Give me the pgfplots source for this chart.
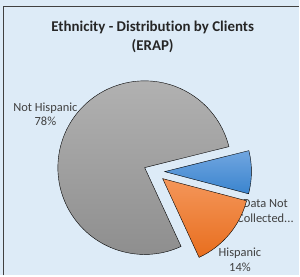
\documentclass[border=0pt]{standalone}
\usepackage{pgfplots}
\pgfplotsset{compat=1.18}
\usepackage{fontspec}
\setmainfont{Carlito}[Ligatures={NoCommon}]
\definecolor{bg}{RGB}{221,235,247}
\definecolor{frame}{RGB}{64,64,64}
\definecolor{txt}{RGB}{64,64,64}
\definecolor{grayA}{RGB}{178,178,178}
\definecolor{grayB}{RGB}{140,140,140}
\definecolor{blueA}{RGB}{113,166,224}
\definecolor{blueB}{RGB}{58,132,206}
\definecolor{orA}{RGB}{244,150,90}
\definecolor{orB}{RGB}{232,110,30}
% slice apex (pixel space, y up), start angle (deg), percentage
\pgfplotstableread{
x y start pct
145 108 -65.2 78
}\notHisp
\pgfplotstableread{
x y start pct
163 97 -14.8 14
}\hisp
\pgfplotstableread{
x y start pct
165 104 14 8
}\notColl
\pgfplotsset{
  pieslice/.style n args={2}{
    scatter, only marks, mark=*,
    visualization depends on={\thisrow{start} \as \wstart},
    visualization depends on={\thisrow{pct} \as \wpct},
    scatter/@pre marker code/.code={%
      \pgfmathsetmacro\wend{\wstart-3.6*\wpct}%
      \shade[top color=#1, bottom color=#2]
        (0,0) -- (\wstart:87bp) arc[start angle=\wstart, end angle=\wend, radius=87bp] -- cycle;
      \begin{scope}[opacity=0]},
    scatter/@post marker code/.code={\end{scope}},
  }
}
\begin{document}
\begin{tikzpicture}
\fill[bg] (0,0) rectangle (300bp,276bp);
\begin{axis}[
  at={(0,0)}, anchor=south west,
  width=300bp, height=276bp, scale only axis,
  xmin=0, xmax=300, ymin=0, ymax=276,
  hide axis, clip=false,
]
\addplot[pieslice={grayA}{grayB}] table[x=x,y=y] {\notHisp};
\addplot[pieslice={orA}{orB}] table[x=x,y=y] {\hisp};
\addplot[pieslice={blueA}{blueB}] table[x=x,y=y] {\notColl};
\node[font=\fontsize{15}{20}\selectfont\bfseries, text=black!85, align=center] at (axis cs:153,239) {Ethnicity - Distribution by Clients\\(ERAP)};
\node[font=\fontsize{12.5}{15}\selectfont, text=txt, align=center] at (axis cs:45.5,161.5) {Not Hispanic\\78\%};
\node[font=\fontsize{12.5}{15}\selectfont, text=txt, align=center] at (axis cs:266,64.5) {Data Not\\Collected...};
\node[font=\fontsize{12.5}{15}\selectfont, text=txt, align=center] at (axis cs:240.5,15.5) {Hispanic\\14\%};
\draw[frame, line width=1.3bp] (axis cs:3.5,0) -- (axis cs:3.5,269.5) -- (axis cs:300,269.5);
\end{axis}
\end{tikzpicture}
\end{document}
